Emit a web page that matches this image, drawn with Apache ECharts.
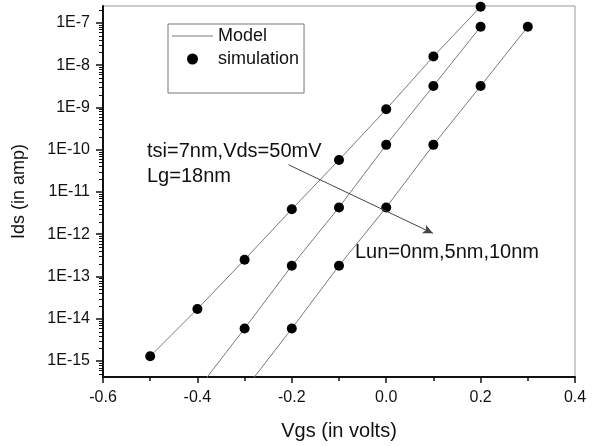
<!DOCTYPE html>
<html>
<head>
<meta charset="utf-8">
<script src="https://cdn.jsdelivr.net/npm/echarts@6/dist/echarts.min.js"></script>
<style>
html,body{margin:0;padding:0;background:#fff;}
#chart{width:596px;height:446px;}
</style>
</head>
<body>
<div id="chart"></div>
<script>
// Vgs values (volts) for each Lun curve
var vgs0 = [-0.5, -0.4, -0.3, -0.2, -0.1, 0.0, 0.1, 0.2];
var vgs5 = [-0.3, -0.2, -0.1, 0.0, 0.1, 0.2];
var vgs10 = [-0.2, -0.1, 0.0, 0.1, 0.2, 0.3];

// simulation points, Ids (amp)
var sim0 = [1.3e-15, 1.7e-14, 2.5e-13, 3.9e-12, 5.7e-11, 9.0e-10, 1.6e-8, 2.4e-7];
var sim5 = [5.9e-15, 1.8e-13, 4.3e-12, 1.3e-10, 3.2e-9, 8.1e-8];
var sim10 = [5.9e-15, 1.8e-13, 4.3e-12, 1.3e-10, 3.2e-9, 8.1e-8];

// model lines (run down past the bottom of the axis)
var modelX0 = [-0.5, -0.4, -0.3, -0.2, -0.1, 0.0, 0.1, 0.2];
var model0 = [1.3e-15, 1.7e-14, 2.5e-13, 3.9e-12, 5.7e-11, 9.0e-10, 1.6e-8, 2.4e-7];
var modelX5 = [-0.4, -0.3, -0.2, -0.1, 0.0, 0.1, 0.2];
var model5 = [2.1e-16, 5.9e-15, 1.8e-13, 4.3e-12, 1.3e-10, 3.2e-9, 8.1e-8];
var modelX10 = [-0.3, -0.2, -0.1, 0.0, 0.1, 0.2, 0.3];
var model10 = [2.1e-16, 5.9e-15, 1.8e-13, 4.3e-12, 1.3e-10, 3.2e-9, 8.1e-8];

// log minor tick mantissas and decades on the Ids axis
var minorMantissa = [2, 3, 4, 5, 6, 7, 8, 9];
var decades = [-16, -15, -14, -13, -12, -11, -10, -9, -8, -7];

// arrow across the curves (Vgs, Ids)
var arrowFrom = [-0.207, 4.4e-11];
var arrowTo = [0.099, 1.05e-12];

var yMin = 4.2e-16, yMax = 2.5e-7;

function pairs(xs, ys){
	var out = [];
	for (var i = 0; i < xs.length; i++) out.push([xs[i], ys[i]]);
	return out;
}

var minorVals = [];
for (var d = 0; d < decades.length; d++){
	for (var m = 0; m < minorMantissa.length; m++){
		var v = minorMantissa[m] * Math.pow(10, decades[d]);
		if (v > yMin && v < yMax) minorVals.push([-0.6, v]);
	}
}

var myChart = echarts.init(document.getElementById('chart'), null, {renderer: 'canvas'});
var font = 'Liberation Sans, Arial, Helvetica, sans-serif';

function modelSeries(xs, ys){
	return {
		name: 'Model', type: 'line', data: pairs(xs, ys),
		symbol: 'none', showSymbol: false, clip: true,
		lineStyle: {color: '#7a7a7a', width: 1},
		itemStyle: {color: '#7a7a7a'},
		z: 2
	};
}
function simSeries(xs, ys){
	return {
		name: 'simulation', type: 'scatter', data: pairs(xs, ys),
		symbol: 'circle', symbolSize: 10,
		itemStyle: {color: '#000', opacity: 1},
		z: 3
	};
}

var s0 = modelSeries(modelX0, model0);
s0.markLine = {
	silent: true,
	symbol: ['none', 'arrow'],
	symbolSize: [7, 10],
	label: {show: false},
	lineStyle: {color: '#444', width: 1, type: 'solid'},
	data: [[{coord: arrowFrom}, {coord: arrowTo}]]
};

var option = {
	animation: false,
	backgroundColor: '#fff',
	textStyle: {fontFamily: font},
	grid: {left: 103, right: 21, top: 6, bottom: 66, show: true, borderColor: '#999', borderWidth: 1},
	legend: {
		data: [
			{name: 'Model', icon: 'path://M0,0 L40,0 L40,1 L0,1 Z', itemStyle: {color: '#7a7a7a'}},
			{name: 'simulation', icon: 'circle'}
		],
		orient: 'vertical',
		left: 168, top: 24,
		padding: [3, 5, 25, 4],
		itemWidth: 41, itemHeight: 11, itemGap: 5,
		borderColor: '#777', borderWidth: 1,
		textStyle: {fontSize: 18, color: '#111', fontFamily: font}
	},
	xAxis: {
		type: 'value',
		min: -0.6, max: 0.4, interval: 0.2,
		name: 'Vgs (in volts)', nameLocation: 'middle', nameGap: 44,
		nameTextStyle: {fontSize: 20, color: '#111', fontFamily: font},
		axisLine: {onZero: false, lineStyle: {color: '#111', width: 2}},
		axisTick: {show: true, inside: false, length: 6, lineStyle: {color: '#111', width: 1.5}},
		minorTick: {show: true, splitNumber: 2, length: 4, lineStyle: {color: '#111', width: 1.5}},
		splitLine: {show: false},
		axisLabel: {
			fontSize: 16, color: '#111', margin: 13, fontFamily: font,
			formatter: function(v){ return (Math.abs(v) < 1e-9 ? 0 : v).toFixed(1); }
		}
	},
	yAxis: {
		type: 'log', logBase: 10,
		min: yMin, max: yMax,
		name: 'Ids (in amp)', nameLocation: 'middle', nameGap: 75,
		nameTextStyle: {fontSize: 18, color: '#111', fontFamily: font},
		axisLine: {onZero: false, lineStyle: {color: '#111', width: 2}},
		axisTick: {show: true, inside: false, length: 7, lineStyle: {color: '#111', width: 1.5}},
		minorTick: {show: false},
		splitLine: {show: false},
		axisLabel: {
			fontSize: 16, color: '#111', margin: 13, fontFamily: font,
			showMinLabel: false, showMaxLabel: false,
			formatter: function(v){
				var e = Math.round(Math.log(v) / Math.LN10);
				return '1E' + e;
			}
		}
	},
	graphic: [
		{type: 'text', left: 147, top: 141, style: {text: 'tsi=7nm,Vds=50mV', font: '20px ' + font, fill: '#111'}},
		{type: 'text', left: 147, top: 166, style: {text: 'Lg=18nm', font: '20px ' + font, fill: '#111'}},
		{type: 'text', left: 355, top: 242, style: {text: 'Lun=0nm,5nm,10nm', font: '20px ' + font, fill: '#111'}}
	],
	series: [
		s0,
		modelSeries(modelX5, model5),
		modelSeries(modelX10, model10),
		simSeries(vgs0, sim0),
		simSeries(vgs5, sim5),
		simSeries(vgs10, sim10),
		{
			// log-spaced minor ticks on the left axis
			type: 'custom', silent: true, clip: false, z: 5,
			data: minorVals,
			renderItem: function(params, api){
				var p = api.coord([api.value(0), api.value(1)]);
				return {
					type: 'line',
					shape: {x1: p[0] - 4, y1: Math.round(p[1]) + 0.5, x2: p[0], y2: Math.round(p[1]) + 0.5},
					style: {stroke: '#111', lineWidth: 1}
				};
			}
		}
	]
};
myChart.setOption(option);
</script>
</body>
</html>
